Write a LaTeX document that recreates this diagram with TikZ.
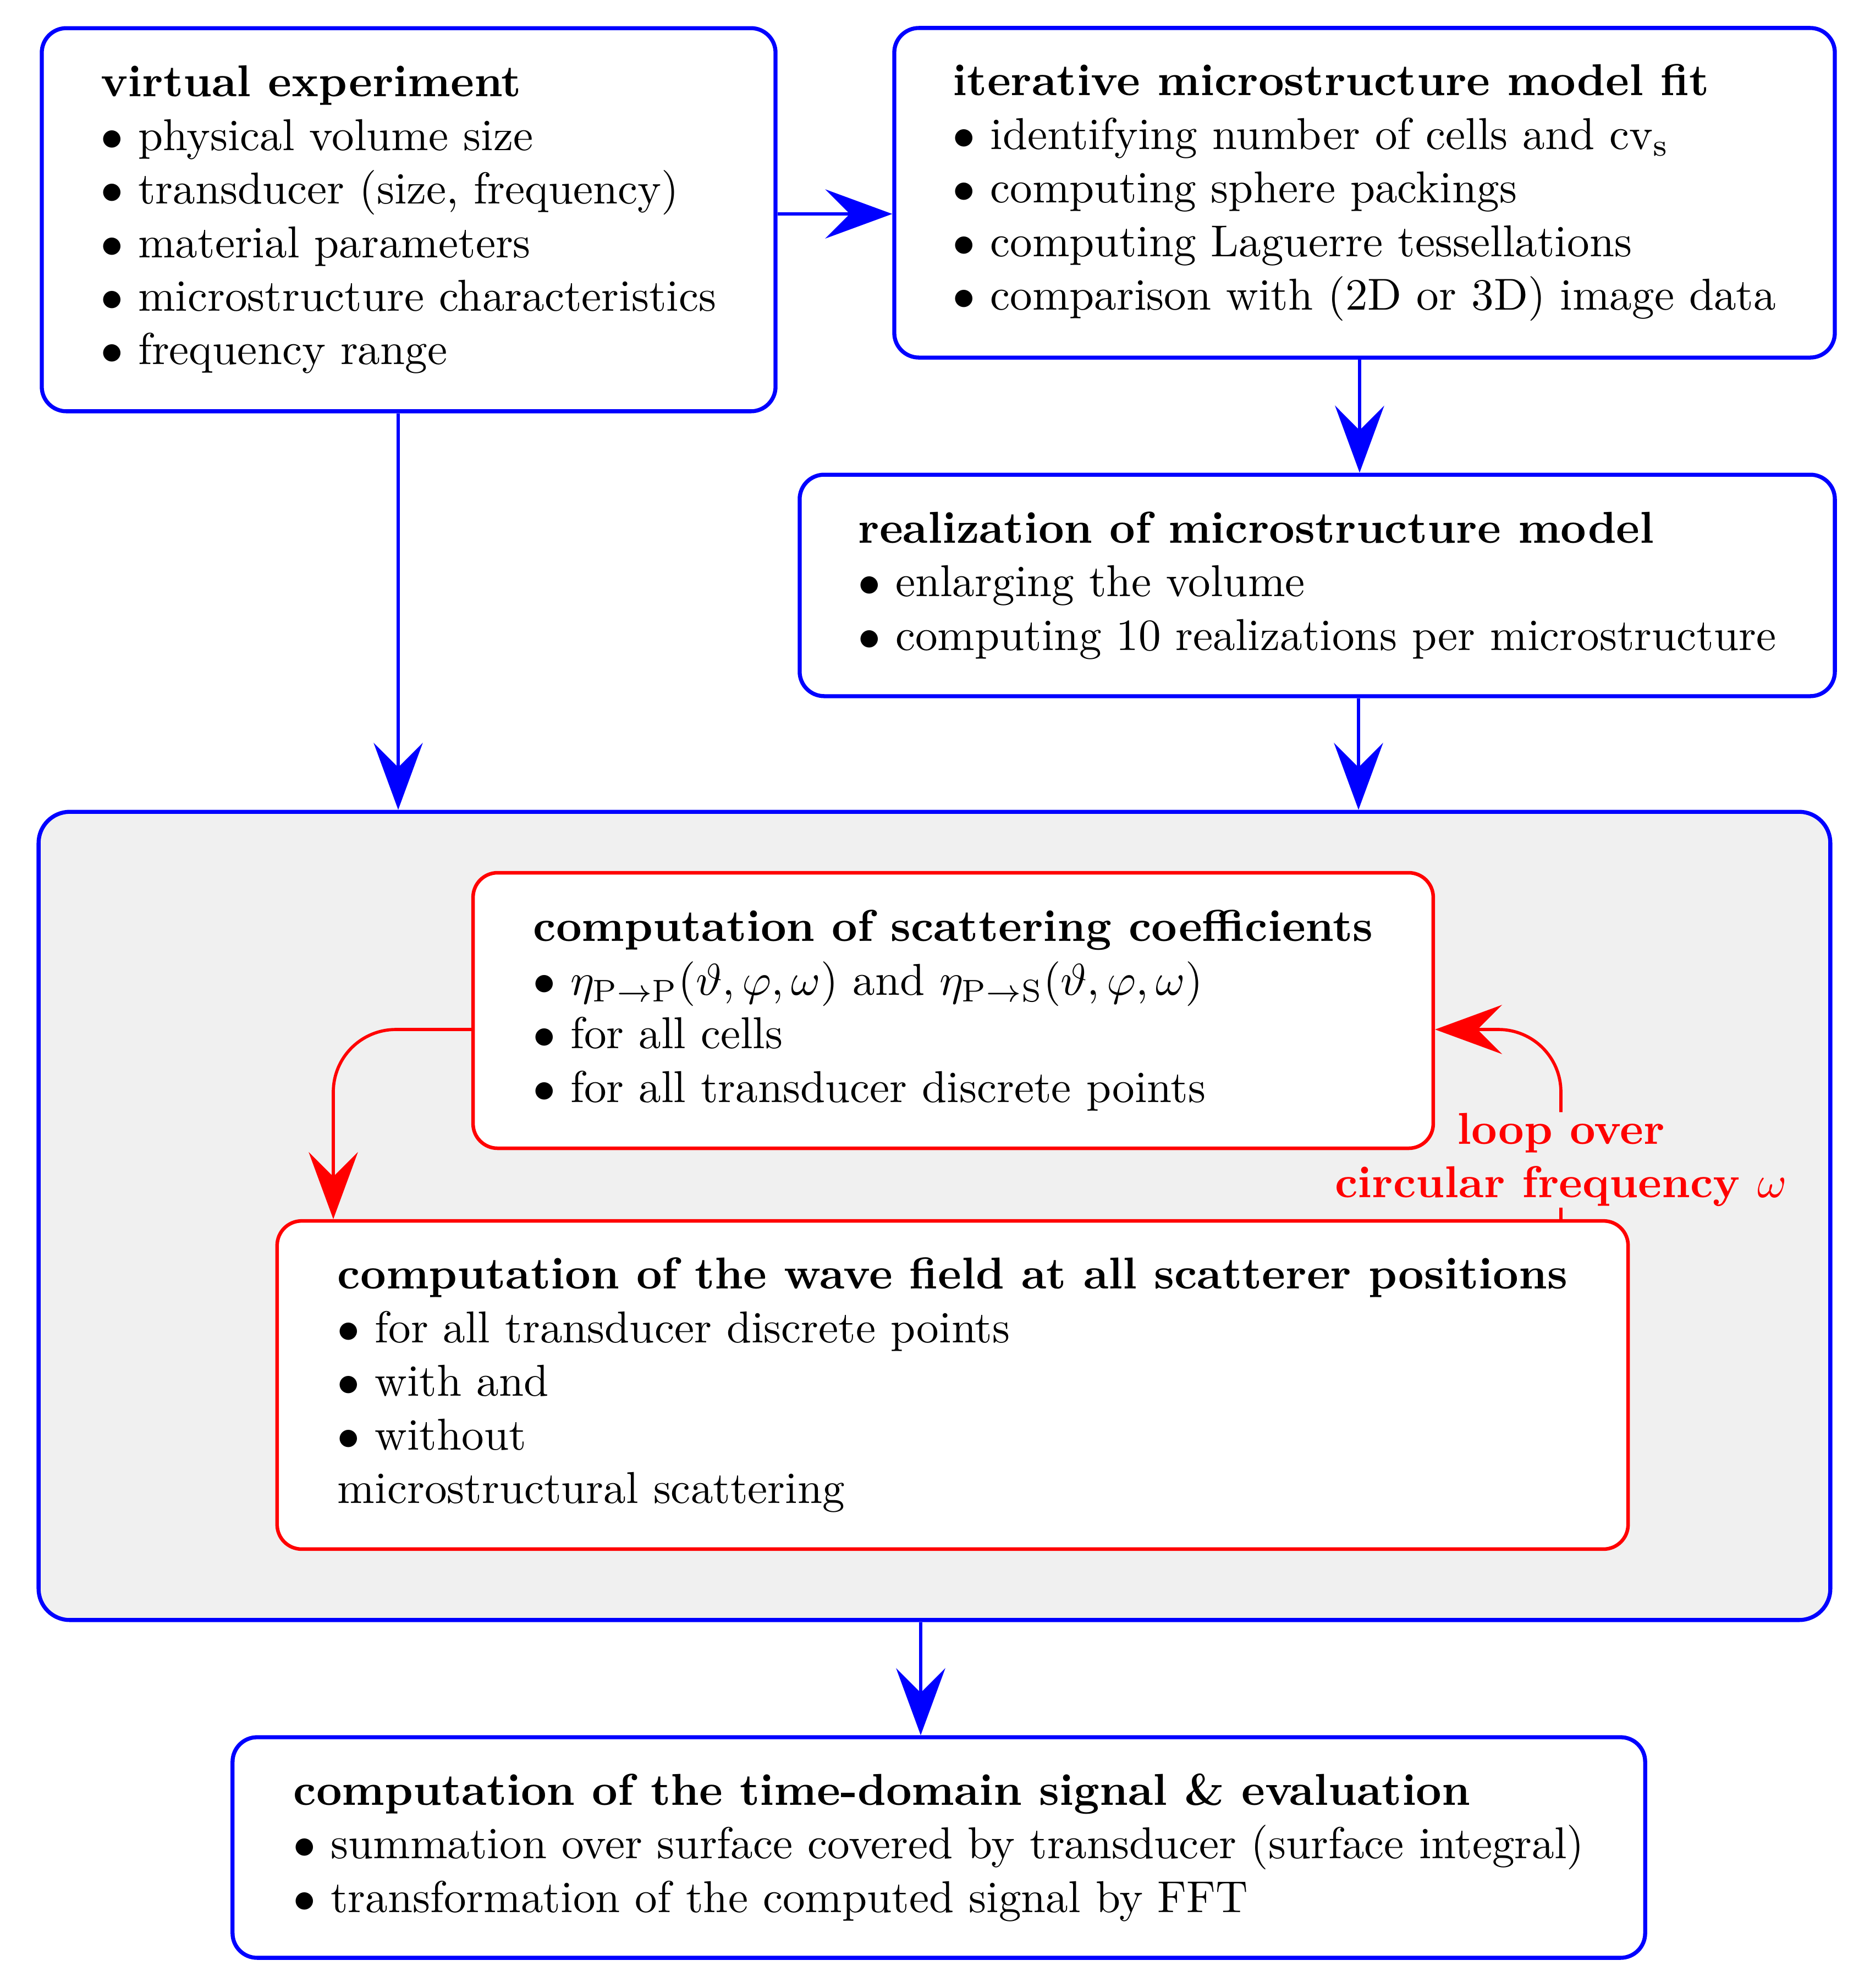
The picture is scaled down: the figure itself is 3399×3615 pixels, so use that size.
\documentclass[tikz,border=0pt]{standalone}
\usetikzlibrary{arrows.meta}
\definecolor{bgray}{RGB}{240,240,240}
\begin{document}
\begin{tikzpicture}[x=0.12315pt,y=-0.12315pt,
  bbox/.style={draw=blue,line width=0.9pt,rounded corners=5.5pt,fill=white,align=left,inner xsep=12pt,inner ysep=4pt},
  rbox/.style={draw=red,line width=0.8pt,rounded corners=5.5pt,fill=white,align=left,inner xsep=12pt,inner ysep=4pt},
  bigbox/.style={draw=blue,line width=0.9pt,rounded corners=7pt,fill=bgray},
  barr/.style={draw=blue,line width=0.7pt,-{Stealth[length=15pt,width=11pt,inset=5.5pt]}},
  rarr/.style={draw=red,line width=0.7pt,-{Stealth[length=15pt,width=11pt,inset=5.5pt]}},
  rline/.style={draw=red,line width=0.7pt},
  looplabel/.style={text=red,font=\bfseries,align=center,inner sep=0pt}]
\useasboundingbox (0,0) rectangle (3399,3615);

\node[bigbox,minimum width=401.2pt,minimum height=181pt] (big) at (1699,2211) {};

\node[bbox,minimum width=164.3pt,minimum height=85.8pt] (box1) at (743,399.5)
 {\textbf{virtual experiment}\\
  $\bullet$ physical volume size\\
  $\bullet$ transducer (size, frequency)\\
  $\bullet$ material parameters\\
  $\bullet$ microstructure characteristics\\
  $\bullet$ frequency range};

\node[bbox,minimum width=210.6pt,minimum height=73.8pt] (box2) at (2481,350.5)
 {\textbf{iterative microstructure model fit}\\
  $\bullet$ identifying number of cells and cv$_\mathrm{s}$\\
  $\bullet$ computing sphere packings\\
  $\bullet$ computing Laguerre tessellations\\
  $\bullet$ comparison with (2D or 3D) image data};

\node[bbox,minimum width=231.8pt,minimum height=49.6pt] (box3) at (2395,1064.5)
 {\textbf{realization of microstructure model}\\
  $\bullet$ enlarging the volume\\
  $\bullet$ computing 10 realizations per microstructure};

\node[rbox,minimum width=215pt,minimum height=61.7pt] (A) at (1733,1837.5)
 {\textbf{computation of scattering coefficients}\\
  $\bullet$ $\eta_{\mathrm{P}\rightarrow\mathrm{P}}(\vartheta,\varphi,\omega)$ and $\eta_{\mathrm{P}\rightarrow\mathrm{S}}(\vartheta,\varphi,\omega)$\\
  $\bullet$ for all cells\\
  $\bullet$ for all transducer discrete points};

\node[rbox,minimum width=302.5pt,minimum height=73.5pt] (B) at (1732,2518.5)
 {\textbf{computation of the wave field at all scatterer positions}\\
  $\bullet$ for all transducer discrete points\\
  $\bullet$ with and\\
  $\bullet$ without\\
  microstructural scattering};

\node[bbox,minimum width=316.3pt,minimum height=49.4pt] (bottom) at (1707,3359.5)
 {\textbf{computation of the time-domain signal \& evaluation}\\
  $\bullet$ summation over surface covered by transducer (surface integral)\\
  $\bullet$ transformation of the computed signal by FFT};

\node[looplabel] (loop) at (2838,2109) {loop over\\circular frequency $\omega$};

\draw[barr] (box1.east |- 0,389) -- (box2.west |- 0,389);
\draw[barr] (box2.south -| 2472,0) -- (box3.north -| 2472,0);
\draw[barr] (box3.south -| 2470,0) -- (big.north -| 2470,0);
\draw[barr] (box1.south -| 724,0) -- (big.north -| 724,0);
\draw[barr] (big.south -| 1674,0) -- (bottom.north -| 1674,0);

\draw[rarr,rounded corners=14pt] (A.west |- 0,1872) -| (B.north -| 606,0);
\draw[rline] (B.north -| loop.south) -- (loop.south);
\draw[rarr,rounded corners=14pt] (loop.north) |- (A.east |- 0,1872);
\end{tikzpicture}
\end{document}
